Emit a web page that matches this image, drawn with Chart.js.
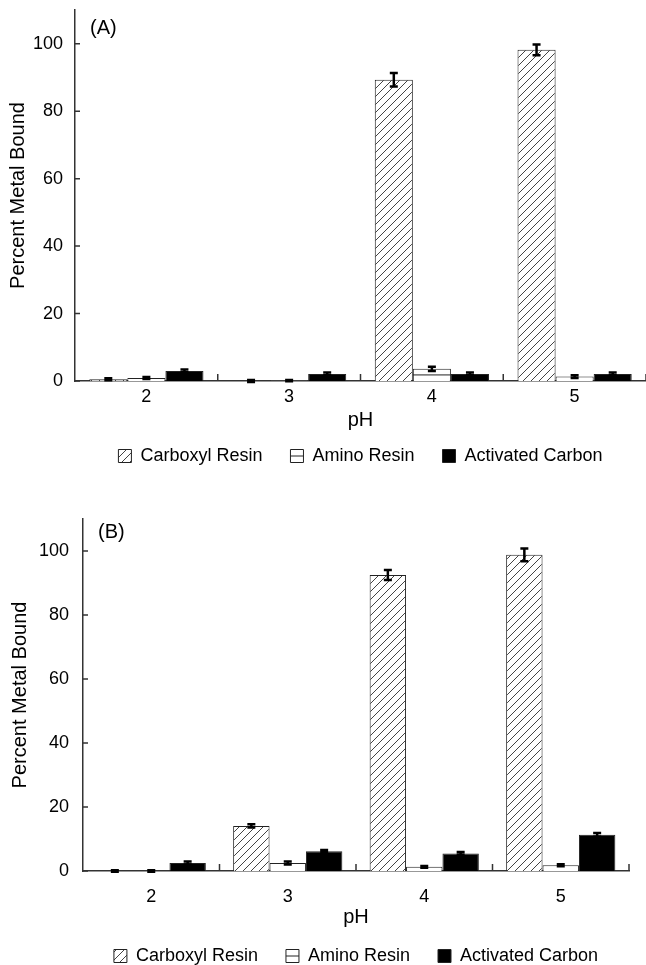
<!DOCTYPE html>
<html>
<head>
<meta charset="utf-8">
<script src="https://cdn.jsdelivr.net/npm/chart.js@4"></script>
<style>
  body { margin: 0; background: #fff; }
  .panel { position: absolute; left: 0; width: 646px; }
  #panelA { top: 0; height: 475px; }
  #panelB { top: 490px; height: 485px; }
</style>
</head>
<body>
<div class="panel" id="panelA"><canvas id="chartA"></canvas></div>
<div class="panel" id="panelB"><canvas id="chartB"></canvas></div>
<script>
// data
const phLabels = ['2', '3', '4', '5'];
const seriesNames = ['Carboxyl Resin', 'Amino Resin', 'Activated Carbon'];
const yTicks = [0, 20, 40, 60, 80, 100];

// panel (A)
const carboxylA = [0.5, 0, 89.3, 98.2];
const carboxylErrA = [0.3, 0.3, 2.0, 1.6];
const aminoA = [0.9, 0.1, 3.6, 1.3];
const aminoErrA = [0.3, 0.2, 0.6, 0.4];
const carbonA = [3.0, 2.1, 2.1, 2.1];
const carbonErrA = [0.4, 0.4, 0.4, 0.4];

// panel (B)
const carboxylB = [0, 14.1, 92.5, 98.8];
const carboxylErrB = [0.2, 0.5, 1.6, 2.0];
const aminoB = [0, 2.5, 1.3, 1.8];
const aminoErrB = [0.2, 0.5, 0.3, 0.3];
const carbonB = [2.5, 6.2, 5.5, 11.3];
const carbonErrB = [0.5, 0.4, 0.4, 0.6];

const FONT = '"Liberation Sans", Arial, sans-serif';

function hatch() {
  const c = document.createElement('canvas');
  c.width = 8; c.height = 8;
  const g = c.getContext('2d');
  g.fillStyle = '#fff';
  g.fillRect(0, 0, 8, 8);
  g.strokeStyle = '#444';
  g.lineWidth = 1;
  g.beginPath();
  g.moveTo(-1, 9); g.lineTo(9, -1);
  g.stroke();
  return g.createPattern(c, 'repeat');
}

// error bars, inward ticks, panel letter, amino middle line
const extras = {
  id: 'extras',
  afterDatasetsDraw(chart) {
    const ctx = chart.ctx;
    const x = chart.scales.x, y = chart.scales.y;
    const area = chart.chartArea;
    ctx.save();
    // amino resin middle line (only visible on the taller bars)
    chart.getDatasetMeta(1).data.forEach(bar => {
      if (bar.base - bar.y > 10) {
        const my = (bar.y + bar.base) / 2;
        ctx.strokeStyle = '#222'; ctx.lineWidth = 1;
        ctx.beginPath();
        ctx.moveTo(bar.x - bar.width / 2, my); ctx.lineTo(bar.x + bar.width / 2, my);
        ctx.stroke();
      }
    });
    // error bars
    chart.data.datasets.forEach((ds, i) => {
      chart.getDatasetMeta(i).data.forEach((bar, j) => {
        const v = ds.data[j], e = ds.errors[j];
        const y1 = y.getPixelForValue(v + e), y2 = y.getPixelForValue(v - e);
        ctx.strokeStyle = '#000'; ctx.lineWidth = 2.5;
        ctx.beginPath();
        ctx.moveTo(bar.x, y1); ctx.lineTo(bar.x, y2);
        ctx.moveTo(bar.x - 4, y1); ctx.lineTo(bar.x + 4, y1);
        ctx.moveTo(bar.x - 4, y2); ctx.lineTo(bar.x + 4, y2);
        ctx.stroke();
      });
    });
    // inward tick marks
    ctx.strokeStyle = '#333'; ctx.lineWidth = 1.5;
    ctx.beginPath();
    y.ticks.forEach(t => {
      const py = y.getPixelForValue(t.value);
      ctx.moveTo(area.left, py); ctx.lineTo(area.left + 5, py);
    });
    const step = x.getPixelForValue(1) - x.getPixelForValue(0);
    phLabels.forEach((l, i) => {
      const bx = x.getPixelForValue(i) + step / 2;
      ctx.moveTo(bx, area.bottom); ctx.lineTo(bx, area.bottom - 7);
    });
    ctx.stroke();
    // panel letter
    const o = chart.options.plugins.extras;
    ctx.fillStyle = '#000';
    ctx.font = '20px ' + FONT;
    ctx.textBaseline = 'middle';
    ctx.fillText(o.letter, area.left + o.dx, area.top + o.dy);
    // legend amino box middle line
    const hb = chart.legend.legendHitBoxes[1];
    if (hb) {
      const bw = chart.legend.options.labels.boxWidth;
      const by = hb.top + hb.height / 2;
      ctx.strokeStyle = '#222'; ctx.lineWidth = 1;
      ctx.beginPath();
      ctx.moveTo(hb.left, by); ctx.lineTo(hb.left + bw, by);
      ctx.stroke();
    }
    ctx.restore();
  }
};

function makeChart(id, cfg) {
  return new Chart(document.getElementById(id), {
    type: 'bar',
    data: {
      labels: phLabels,
      datasets: [{
        label: seriesNames[0],
        data: cfg.carboxyl,
        errors: cfg.carboxylErr,
        backgroundColor: hatch(),
        borderColor: '#222',
        borderWidth: 1
      }, {
        label: seriesNames[1],
        data: cfg.amino,
        errors: cfg.aminoErr,
        backgroundColor: '#fff',
        borderColor: '#222',
        borderWidth: 1
      }, {
        label: seriesNames[2],
        data: cfg.carbon,
        errors: cfg.carbonErr,
        backgroundColor: '#000',
        borderColor: '#222',
        borderWidth: 1
      }]
    },
    options: {
      responsive: true,
      maintainAspectRatio: false,
      animation: false,
      layout: { padding: { top: cfg.padTop, right: cfg.padRight, left: 0, bottom: 0 } },
      datasets: { bar: { categoryPercentage: 0.8, barPercentage: 1.0 } },
      scales: {
        x: {
          grid: { display: false, drawTicks: false },
          border: { display: true, color: '#333', width: 1.5 },
          ticks: { color: '#000', padding: cfg.xPad, font: { family: FONT, size: 18 } },
          title: { display: true, text: 'pH', color: '#000', padding: { top: 0, bottom: cfg.titlePad }, font: { family: FONT, size: 20 } },
          afterFit: s => { s.height = cfg.xHeight; s.paddingLeft = 0; s.paddingRight = 0; }
        },
        y: {
          min: 0,
          max: 110,
          grid: { display: false, drawTicks: false },
          border: { display: true, color: '#333', width: 1.5 },
          afterBuildTicks: s => { s.ticks = yTicks.map(v => ({ value: v })); },
          ticks: { color: '#000', padding: cfg.yPad, font: { family: FONT, size: 18 } },
          title: { display: true, text: 'Percent Metal Bound', color: '#000', padding: { top: cfg.yTitlePad, bottom: 0 }, font: { family: FONT, size: 20 } },
          afterFit: s => { s.width = cfg.yWidth; s.paddingTop = 0; s.paddingBottom = 0; }
        }
      },
      plugins: {
        legend: {
          position: 'bottom',
          fullSize: false,
          labels: { color: '#000', boxWidth: 13, boxHeight: 13, padding: 28, font: { family: FONT, size: 18 } }
        },
        tooltip: { enabled: false },
        extras: { letter: cfg.letter, dx: 15, dy: cfg.letterDy }
      }
    },
    plugins: [extras]
  });
}

makeChart('chartA', {
  carboxyl: carboxylA, carboxylErr: carboxylErrA,
  amino: aminoA, aminoErr: aminoErrA,
  carbon: carbonA, carbonErr: carbonErrA,
  letter: '(A)', letterDy: 18,
  padTop: 10, padRight: 0, xPad: 5, xHeight: 38, titlePad: -13,
  yPad: 12, yWidth: 75, yTitlePad: 6
});

makeChart('chartB', {
  carboxyl: carboxylB, carboxylErr: carboxylErrB,
  amino: aminoB, aminoErr: aminoErrB,
  carbon: carbonB, carbonErr: carbonErrB,
  letter: '(B)', letterDy: 13,
  padTop: 29, padRight: 17, xPad: 15, xHeight: 48, titlePad: -10,
  yPad: 14, yWidth: 83, yTitlePad: 8
});
</script>
</body>
</html>
